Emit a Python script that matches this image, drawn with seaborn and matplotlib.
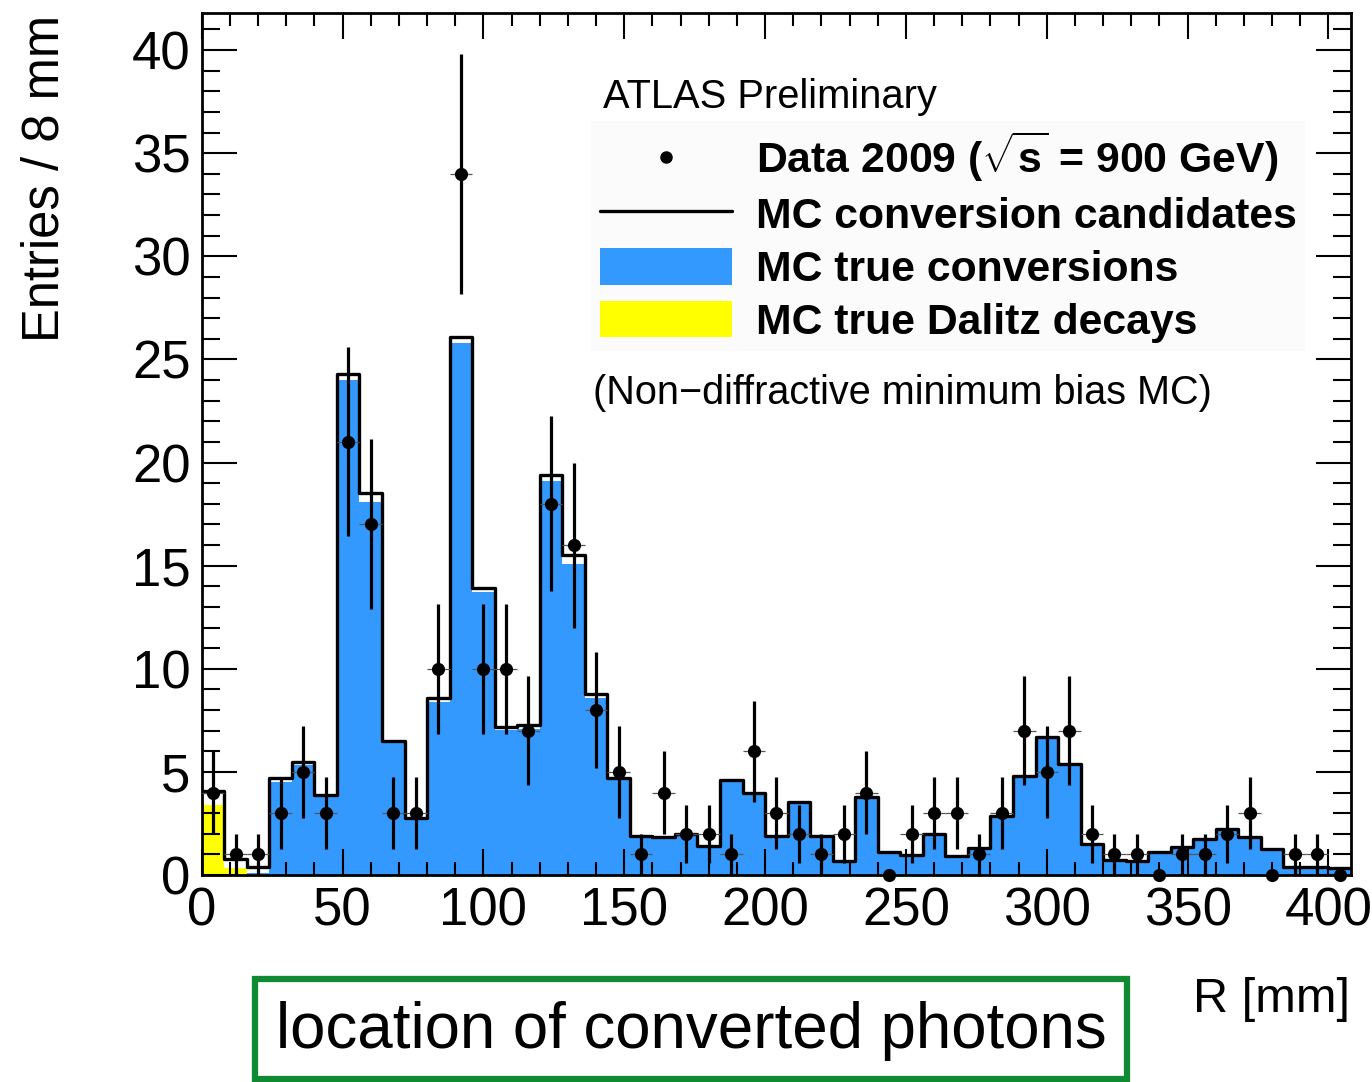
import numpy as np
import pandas as pd
import matplotlib
matplotlib.use("Agg")
import matplotlib.pyplot as plt
import seaborn as sns
from matplotlib.patches import Rectangle, Patch
from matplotlib.lines import Line2D
from matplotlib.ticker import MultipleLocator

# ---------------- data (51 bins of 8 mm, 0-408 mm) ----------------
bin_width = 8
r_range = (0, 408)

mc_candidates = [4.05, 0.8, 0.4, 4.7, 5.5, 3.9, 24.3, 18.5, 6.5, 2.75,
                 8.6, 26.1, 13.9, 7.2, 7.25, 19.4, 15.5, 8.8, 4.7, 1.9,
                 1.85, 2.0, 1.4, 4.6, 4.0, 1.9, 3.55, 1.9, 0.7, 3.8,
                 1.1, 0.95, 2.0, 0.9, 1.3, 2.85, 4.8, 6.7, 5.4, 1.5,
                 0.75, 0.7, 1.1, 1.35, 1.75, 2.25, 1.85, 1.25, 0.4, 0.4,
                 0.35]

mc_true_conversions = [0.2, 0.1, 0.1, 4.5, 5.35, 3.85, 24.0, 18.1, 6.45, 2.7,
                       8.4, 25.8, 13.7, 7.05, 7.1, 19.1, 15.1, 8.6, 4.6, 1.85,
                       1.8, 1.95, 1.35, 4.55, 3.95, 1.85, 3.5, 1.85, 0.65, 3.75,
                       1.05, 0.9, 1.95, 0.85, 1.25, 2.8, 4.75, 6.65, 5.35, 1.45,
                       0.7, 0.65, 1.05, 1.3, 1.7, 2.2, 1.8, 1.2, 0.35, 0.35,
                       0.3]

mc_dalitz = [3.4, 0.35, 0.05] + [0.0] * 48

data_2009 = [4, 1, 1, 3, 5, 3, 21, 17, 3, 3,
             10, 34, 10, 10, 7, 18, 16, 8, 5, 1,
             4, 2, 2, 1, 6, 3, 2, 1, 2, 4,
             0, 2, 3, 3, 1, 3, 7, 5, 7, 2,
             1, 1, 0, 1, 1, 2, 3, 0, 1, 1,
             0]

x_ticks = [0, 50, 100, 150, 200, 250, 300, 350, 400]
y_ticks = [0, 5, 10, 15, 20, 25, 30, 35, 40]

# ---------------- style ----------------
sns.set_theme(style="ticks")
plt.rcParams['font.family'] = ['Liberation Sans', 'DejaVu Sans']
plt.rcParams['mathtext.fontset'] = 'custom'
plt.rcParams['mathtext.rm'] = 'Liberation Sans'
plt.rcParams['mathtext.bf'] = 'Liberation Sans:bold'
plt.rcParams['mathtext.it'] = 'Liberation Sans:italic'
plt.rcParams['text.color'] = 'black'
plt.rcParams['axes.labelcolor'] = 'black'
plt.rcParams['xtick.color'] = 'black'
plt.rcParams['ytick.color'] = 'black'
plt.rcParams['xtick.labelcolor'] = 'black'
plt.rcParams['ytick.labelcolor'] = 'black'

BLUE = '#3399ff'
YELLOW = '#ffff00'
GREEN = '#0f8a32'

W, H = 1372, 1082
fig = plt.figure(figsize=(W / 100, H / 100), dpi=100)
ax = fig.add_axes([201.7 / W, 1 - 875 / H, (1351 - 201.7) / W, (875 - 13) / H])

n_bins = len(data_2009)
centers = r_range[0] + bin_width * (np.arange(n_bins) + 0.5)
df = pd.DataFrame({'R': centers, 'cand': mc_candidates, 'conv': mc_true_conversions,
                   'dalitz': mc_dalitz, 'data': data_2009})

hist_kw = dict(binwidth=bin_width, binrange=r_range, element='step', ax=ax)
sns.histplot(data=df, x='R', weights='conv', fill=True, color=BLUE, alpha=1,
             linewidth=0, **hist_kw)
sns.histplot(data=df, x='R', weights='dalitz', fill=True, color=YELLOW, alpha=1,
             linewidth=0, **hist_kw)
sns.histplot(data=df, x='R', weights='cand', fill=False, color='black',
             linewidth=2.4, **hist_kw)

data_arr = np.array(data_2009, dtype=float)
ax.errorbar(df['R'], df['data'], xerr=bin_width / 2, fmt='none', ecolor='#555555',
            elinewidth=0.9, linestyle=':', zorder=4)
ax.errorbar(df['R'], df['data'], yerr=np.sqrt(data_arr), fmt='none', ecolor='black',
            elinewidth=2.3, capsize=0, zorder=5)
sns.scatterplot(data=df, x='R', y='data', color='black', s=90, edgecolor='black',
                linewidth=0, zorder=6, ax=ax, clip_on=False)

ax.set_xlim(*r_range)
ax.set_ylim(0, 41.8)
ax.set_xlabel('')
ax.set_ylabel('')
ax.set_xticks(x_ticks)
ax.set_yticks(y_ticks)
ax.xaxis.set_minor_locator(MultipleLocator(10))
ax.yaxis.set_minor_locator(MultipleLocator(1))
ax.set_axisbelow(False)
ax.tick_params(axis='both', which='both', direction='in', top=True, right=True,
               colors='black', labelcolor='black', width=1.5)
ax.tick_params(axis='x', which='major', length=19, pad=8, labelsize=38)
ax.tick_params(axis='x', which='minor', length=9.5)
ax.tick_params(axis='y', which='major', length=25, pad=8, labelsize=38)
ax.tick_params(axis='y', which='minor', length=13)
for s in ax.spines.values():
    s.set_visible(True)
    s.set_linewidth(2)
    s.set_color('black')

# ---------------- texts ----------------
fig.text(45 / W, 1 - 15 / H, 'Entries / 8 mm', rotation=90, ha='center', va='top',
         fontsize=36.5, color='black')
fig.text(1350 / W, 1 - 1000 / H, 'R [mm]', ha='right', va='center', fontsize=35,
         color='black', fontweight='medium')
fig.text(603 / W, 1 - 97 / H, 'ATLAS Preliminary', ha='left', va='center',
         fontsize=28.7, color='black')
fig.text(593 / W, 1 - 393 / H, '(Non\u2212diffractive minimum bias MC)', ha='left',
         va='center', fontsize=28.5, color='black')

handles = [
    Line2D([], [], marker='o', color='black', linestyle='none', markersize=8),
    Line2D([], [], color='black', linewidth=2.4),
    Patch(facecolor=BLUE, edgecolor='none'),
    Patch(facecolor=YELLOW, edgecolor='none'),
]
labels = [r'Data 2009 ($\mathbf{\sqrt{s}}$ = 900 GeV)', 'MC conversion candidates',
          'MC true conversions', 'MC true Dalitz decays']
leg = fig.legend(handles, labels, loc='upper left',
                 bbox_to_anchor=(591 / W, 1 - 121 / H), bbox_transform=fig.transFigure,
                 prop={'weight': 'bold', 'size': 30.8}, frameon=True, fancybox=False,
                 facecolor='#fbfbfb', edgecolor='none', framealpha=1,
                 handlelength=3.1, handleheight=0.95, handletextpad=0.55,
                 labelspacing=0.25, borderpad=0.2, borderaxespad=0)
for t in leg.get_texts():
    t.set_color('black')

# green annotation box
fig.patches.append(Rectangle((255 / W, 1 - 1079 / H), (1127 - 255) / W, (1079 - 979) / H,
                             transform=fig.transFigure, fill=False, edgecolor=GREEN,
                             linewidth=4.5))
fig.text(691 / W, 1 - 1031 / H, 'location of converted photons', ha='center',
         va='center', fontsize=45.8, color='black')

fig.savefig('out.png', dpi=100)
